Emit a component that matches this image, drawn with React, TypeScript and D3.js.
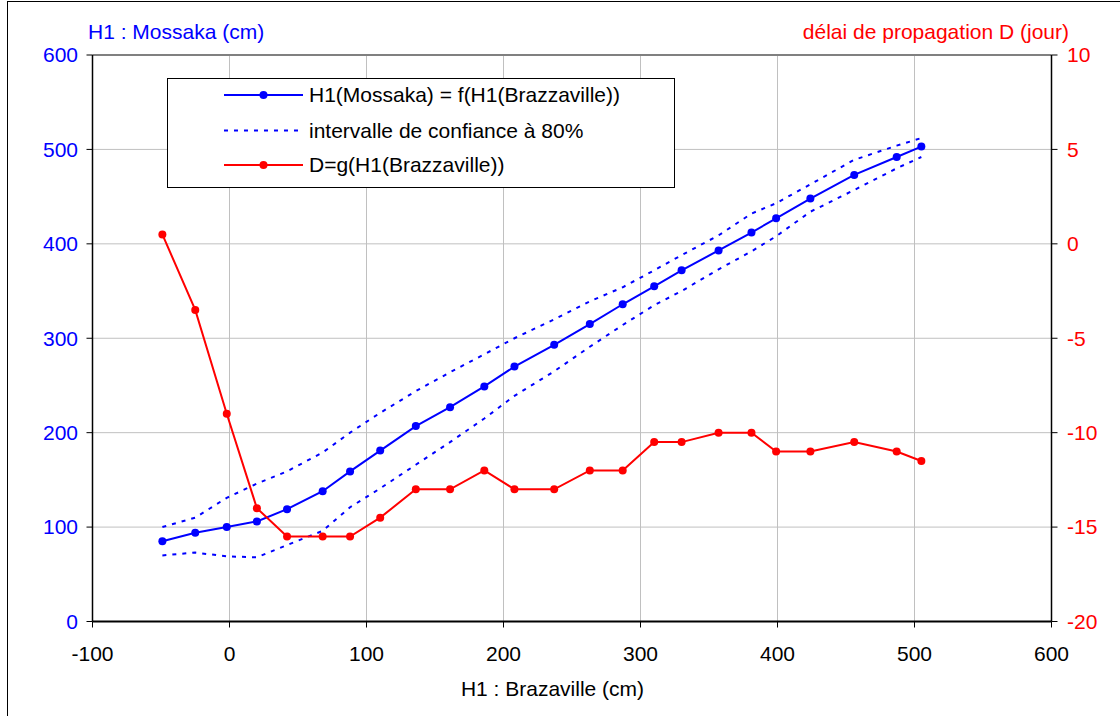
import React from "react";
import * as d3 from "d3";

const brazzaville = [-49, -25, -2, 20, 42, 68, 88, 110, 136, 161, 186, 208, 237, 263, 287, 310, 330, 357, 381, 399, 424, 456, 487, 505];
const mossaka = [85, 94, 100, 106, 119, 138, 159, 181, 207, 227, 249, 270, 293, 315, 336, 355, 372, 393, 412, 427, 448, 473, 492, 503];
const upper80 = [100, 110, 131, 146, 159, 179, 200, 221, 244, 264, 283, 300, 320, 339, 354, 372, 388, 409, 432, 443, 463, 489, 504, 512];
const lower80 = [70, 73, 69, 68, 81, 96, 121, 141, 166, 190, 215, 239, 265, 291, 314, 335, 350, 373, 392, 408, 434, 457, 480, 492];
const delay = [0.5, -3.5, -9, -14, -15.5, -15.5, -15.5, -14.5, -13, -13, -12, -13, -13, -12, -12, -10.5, -10.5, -10, -10, -11, -11, -10.5, -11, -11.5];

const xTicks = [-100, 0, 100, 200, 300, 400, 500, 600];
const leftTicks = [0, 100, 200, 300, 400, 500, 600];
const rightTicks = [-20, -15, -10, -5, 0, 5, 10];

const legendLabels = [
  "H1(Mossaka) = f(H1(Brazzaville))",
  "intervalle de confiance à 80%",
  "D=g(H1(Brazzaville))",
];

const FONT = "'Liberation Sans', Arial, sans-serif";
const BLUE = "#0000ff";
const RED = "#ff0000";
const FS = 21;

export default function App() {
  const x = d3.scaleLinear().domain([-100, 600]).range([92.5, 1051.5]);
  const yL = d3.scaleLinear().domain([0, 600]).range([621.5, 55]);
  const yR = d3.scaleLinear().domain([-20, 10]).range([621.5, 55]);

  const idx = d3.range(brazzaville.length);
  const lineL = (vals: number[]) =>
    d3.line<number>().x((i) => x(brazzaville[i])).y((i) => yL(vals[i]))(idx) || "";
  const lineR = d3.line<number>().x((i) => x(brazzaville[i])).y((i) => yR(delay[i]))(idx) || "";

  const [x0, x1] = x.range();
  const [yb, yt] = yL.range();

  const lg = { x: 167.5, y: 78.5, w: 507, h: 109 };
  const rows = [95, 130.5, 165];

  return (
    <>
      <style>{`body{margin:0}`}</style>
      <svg width={1120} height={716} style={{ display: "block", background: "#fff" }} fontFamily={FONT}>
        <rect x={7.5} y={1.5} width={1200} height={800} fill="#fff" stroke="#000" strokeWidth={1} />
        {/* gridlines */}
        {xTicks.slice(1, -1).map((t) => (
          <line key={"gx" + t} x1={x(t)} x2={x(t)} y1={yt} y2={yb} stroke="#c0c0c0" strokeWidth={1} />
        ))}
        {leftTicks.slice(1).map((t) => (
          <line key={"gy" + t} x1={x0} x2={x1} y1={yL(t)} y2={yL(t)} stroke={t === 600 ? "#808080" : "#c0c0c0"} strokeWidth={t === 600 ? 2 : 1} />
        ))}
        {/* axes */}
        <line x1={x0} x2={x0} y1={yt} y2={yb} stroke="#000" strokeWidth={1.5} />
        <line x1={x1} x2={x1} y1={yt} y2={yb} stroke="#000" strokeWidth={1.5} />
        <line x1={x0} x2={x1} y1={yb} y2={yb} stroke="#000" strokeWidth={2} />
        {leftTicks.map((t) => (
          <g key={"lt" + t}>
            <line x1={x0 - 6} x2={x0} y1={yL(t)} y2={yL(t)} stroke="#000" />
            <text x={78} y={yL(t)} dy="0.35em" textAnchor="end" fontSize={FS} fill={BLUE}>
              {t}
            </text>
          </g>
        ))}
        {rightTicks.map((t) => (
          <g key={"rt" + t}>
            <line x1={x1} x2={x1 + 6} y1={yR(t)} y2={yR(t)} stroke="#000" />
            <text x={1067} y={yR(t)} dy="0.35em" textAnchor="start" fontSize={FS} fill={RED}>
              {t}
            </text>
          </g>
        ))}
        {xTicks.map((t) => (
          <g key={"xt" + t}>
            <line x1={x(t)} x2={x(t)} y1={yb} y2={yb + 6} stroke="#000" />
            <text x={x(t)} y={661} textAnchor="middle" fontSize={FS} fill="#000">
              {t}
            </text>
          </g>
        ))}
        {/* titles */}
        <text x={88} y={39} fontSize={FS} fill={BLUE}>H1 : Mossaka (cm)</text>
        <text x={1069} y={39} fontSize={FS} fill={RED} textAnchor="end">délai de propagation D (jour)</text>
        <text x={552.5} y={696} fontSize={FS} fill="#000" textAnchor="middle">H1 : Brazaville (cm)</text>

        {/* series */}
        <path d={lineL(upper80)} fill="none" stroke={BLUE} strokeWidth={2} strokeDasharray="4,6" />
        <path d={lineL(lower80)} fill="none" stroke={BLUE} strokeWidth={2} strokeDasharray="4,6" />
        <path d={lineL(mossaka)} fill="none" stroke={BLUE} strokeWidth={2} />
        {idx.map((i) => (
          <circle key={"b" + i} cx={x(brazzaville[i])} cy={yL(mossaka[i])} r={4} fill={BLUE} />
        ))}
        <path d={lineR} fill="none" stroke={RED} strokeWidth={2} />
        {idx.map((i) => (
          <circle key={"r" + i} cx={x(brazzaville[i])} cy={yR(delay[i])} r={4} fill={RED} />
        ))}

        {/* legend */}
        <rect x={lg.x} y={lg.y} width={lg.w} height={lg.h} fill="#fff" stroke="#000" strokeWidth={1} />
        <line x1={224} x2={303} y1={rows[0]} y2={rows[0]} stroke={BLUE} strokeWidth={2} />
        <circle cx={263.5} cy={rows[0]} r={4} fill={BLUE} />
        <line x1={224} x2={303} y1={rows[1]} y2={rows[1]} stroke={BLUE} strokeWidth={2} strokeDasharray="4,6" />
        <line x1={224} x2={303} y1={rows[2]} y2={rows[2]} stroke={RED} strokeWidth={2} />
        <circle cx={263.5} cy={rows[2]} r={4} fill={RED} />
        {legendLabels.map((l, i) => (
          <text key={l} x={309} y={rows[i]} dy="0.35em" fontSize={FS} fill="#000">
            {l}
          </text>
        ))}
      </svg>
    </>
  );
}
